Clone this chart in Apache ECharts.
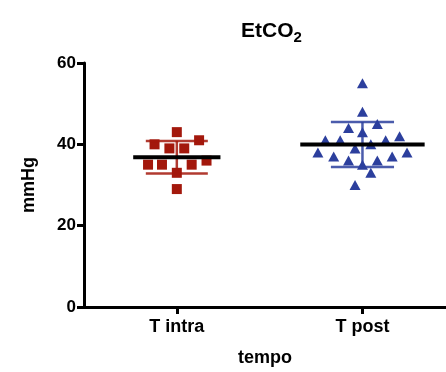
<!DOCTYPE html>
<html>
<head>
<meta charset="utf-8">
<script src="https://cdn.jsdelivr.net/npm/echarts@6/dist/echarts.min.js"></script>
<style>
  html, body { margin: 0; padding: 0; background: #fff; }
  #chart { width: 446px; height: 372px; }
</style>
</head>
<body>
<div id="chart"></div>
<script>
var categories = ['T intra', 'T post'];
var yTicks = [0, 20, 40, 60];

// values in mmHg, with the horizontal scatter offset (in category units)
var intraValues = [43, 41, 40, 39, 39, 35, 35, 35, 36, 33, 29];
var intraJitter = [0, 0.12, -0.12, -0.04, 0.04, -0.155, -0.08, 0.08, 0.16, 0, 0];

var postValues = [55, 48, 44, 45, 43, 41, 41, 41, 42, 39, 40, 38, 37, 36, 36, 37, 38, 35, 33, 30];
var postJitter = [0, 0, -0.075, 0.08, 0, -0.2, -0.12, 0.125, 0.2, -0.04, 0.045, -0.24, -0.155, -0.075, 0.08, 0.16, 0.24, 0, 0.045, -0.04];

var RED = '#a3180c';
var BLUE = '#2c3f9d';
var FONT = 'Liberation Sans, Arial, sans-serif';

var toPoints = function(values, jitter, pos) {
    return values.map(function(v, i) { return [pos + jitter[i], v]; });
};

var stats = function(values) {
    var n = values.length;
    var mean = values.reduce(function(a, b) { return a + b; }, 0) / n;
    var ss = values.reduce(function(a, b) { return a + (b - mean) * (b - mean); }, 0);
    return { mean: mean, sd: Math.sqrt(ss / (n - 1)) };
};

var intraStats = stats(intraValues);
var postStats = stats(postValues);

// [position, mean, sd, mean line half width, cap half width, colour]
var summary = [
    [1, intraStats.mean, intraStats.sd, 0.235, 0.167, RED],
    [2, postStats.mean, postStats.sd, 0.335, 0.17, BLUE]
];

var renderSummary = function(params, api) {
    var row = summary[params.dataIndex];
    var x = row[0], m = row[1], sd = row[2];
    var top = api.coord([x, m + sd]);
    var bot = api.coord([x, m - sd]);
    var capL1 = api.coord([x - row[4], m + sd]);
    var capR1 = api.coord([x + row[4], m + sd]);
    var capL2 = api.coord([x - row[4], m - sd]);
    var capR2 = api.coord([x + row[4], m - sd]);
    var mL = api.coord([x - row[3], m]);
    var mR = api.coord([x + row[3], m]);
    var sdStyle = { stroke: row[5], lineWidth: 2.5, opacity: 0.85 };
    return {
        type: 'group',
        children: [
            { type: 'line', shape: { x1: top[0], y1: top[1], x2: bot[0], y2: bot[1] }, style: sdStyle },
            { type: 'line', shape: { x1: capL1[0], y1: capL1[1], x2: capR1[0], y2: capR1[1] }, style: sdStyle },
            { type: 'line', shape: { x1: capL2[0], y1: capL2[1], x2: capR2[0], y2: capR2[1] }, style: sdStyle },
            { type: 'line', shape: { x1: mL[0], y1: mL[1], x2: mR[0], y2: mR[1] }, style: { stroke: '#000', lineWidth: 4 } }
        ]
    };
};

var chart = echarts.init(document.getElementById('chart'));

var option = {
    animation: false,
    title: {
        text: 'EtCO{s|2}',
        left: 236,
        top: 13,
        textStyle: {
            fontFamily: FONT,
            fontWeight: 'bold',
            fontSize: 21,
            color: '#000',
            rich: {
                s: { fontFamily: FONT, fontWeight: 'bold', fontSize: 15, color: '#000', padding: [12, 0, 0, 0] }
            }
        }
    },
    grid: { left: 84, right: 0, top: 63, bottom: 62, containLabel: false },
    xAxis: {
        type: 'value',
        min: 0.5,
        max: 2.45,
        splitLine: { show: false },
        axisLine: { show: true, lineStyle: { color: '#000', width: 3 } },
        axisTick: { show: true, customValues: [1, 2], length: 7, lineStyle: { color: '#000', width: 3 } },
        axisLabel: {
            customValues: [1, 2],
            formatter: function(v) { return categories[Math.round(v) - 1]; },
            margin: 11,
            fontSize: 18,
            fontFamily: FONT, fontWeight: 'bold', color: '#000'
        },
        name: 'tempo',
        nameLocation: 'middle',
        nameGap: 42,
        nameTextStyle: { fontFamily: FONT, fontWeight: 'bold', fontSize: 18, color: '#000' }
    },
    yAxis: {
        type: 'value',
        min: yTicks[0],
        max: yTicks[yTicks.length - 1],
        interval: 20,
        splitLine: { show: false },
        axisLine: { show: true, lineStyle: { color: '#000', width: 3 } },
        axisTick: { show: true, length: 7, lineStyle: { color: '#000', width: 3 } },
        axisLabel: { margin: 8, fontSize: 17, fontFamily: FONT, fontWeight: 'bold', color: '#000' },
        name: 'mmHg',
        nameLocation: 'middle',
        nameRotate: 90,
        nameGap: 46,
        nameTextStyle: { fontFamily: FONT, fontWeight: 'bold', fontSize: 18, color: '#000' }
    },
    series: [
        {
            type: 'scatter',
            data: toPoints(intraValues, intraJitter, 1),
            symbol: 'rect',
            symbolSize: 10,
            itemStyle: { color: RED, opacity: 1 },
            z: 2
        },
        {
            type: 'scatter',
            data: toPoints(postValues, postJitter, 2),
            symbol: 'triangle',
            symbolSize: [11, 10],
            itemStyle: { color: BLUE, opacity: 1 },
            z: 2
        },
        {
            type: 'custom',
            renderItem: renderSummary,
            data: summary.map(function(r) { return [r[0], r[1]]; }),
            z: 5
        }
    ]
};

chart.setOption(option);
</script>
</body>
</html>
